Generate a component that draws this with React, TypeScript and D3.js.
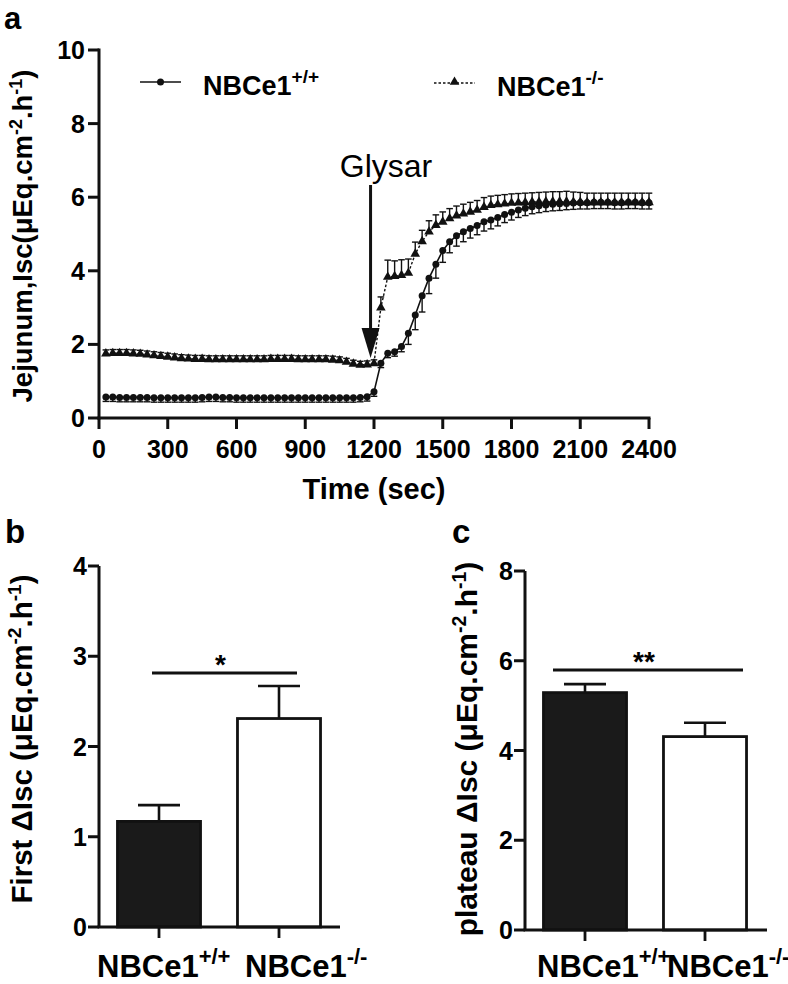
import React from "react";
import * as d3 from "d3";

const TIMES: number[] = d3.range(1, 81).map((i) => i * 30);

const WT_MEAN = [
  0.57, 0.57, 0.56, 0.56, 0.56, 0.56, 0.56, 0.55, 0.55, 0.55, 0.55, 0.55, 0.55, 0.55, 0.56, 0.57, 0.57, 0.56, 0.56, 0.55,
  0.55, 0.55, 0.55, 0.55, 0.55, 0.55, 0.55, 0.55, 0.55, 0.55, 0.55, 0.55, 0.55, 0.55, 0.55, 0.55, 0.55, 0.56, 0.58, 0.71,
  1.49, 1.76, 1.8, 1.94, 2.3, 2.8, 3.32, 3.8, 4.18, 4.55, 4.79, 4.95, 5.06, 5.15, 5.23, 5.33, 5.38, 5.45, 5.53, 5.59,
  5.65, 5.7, 5.74, 5.77, 5.79, 5.81, 5.82, 5.83, 5.84, 5.85, 5.85, 5.86, 5.86, 5.86, 5.85, 5.85, 5.86, 5.86, 5.85, 5.85,
];
const WT_SEM = [
  0.12, 0.12, 0.12, 0.12, 0.12, 0.12, 0.12, 0.12, 0.12, 0.12, 0.12, 0.12, 0.12, 0.12, 0.12, 0.12, 0.12, 0.12, 0.12, 0.12,
  0.12, 0.12, 0.12, 0.12, 0.12, 0.12, 0.12, 0.12, 0.12, 0.12, 0.12, 0.12, 0.12, 0.12, 0.12, 0.12, 0.12, 0.12, 0.12, 0.12,
  0.12, 0.12, 0.12, 0.14, 0.3, 0.4, 0.44, 0.42, 0.38, 0.32, 0.3, 0.28, 0.27, 0.26, 0.25, 0.25, 0.24, 0.23, 0.22, 0.21,
  0.2, 0.2, 0.19, 0.19, 0.18, 0.18, 0.18, 0.17, 0.17, 0.17, 0.17, 0.17, 0.17, 0.17, 0.17, 0.17, 0.17, 0.17, 0.17, 0.17,
];
const KO_MEAN = [
  1.75, 1.76, 1.76, 1.76, 1.75, 1.74, 1.72, 1.7, 1.68, 1.66, 1.64, 1.62, 1.61, 1.6, 1.6, 1.59, 1.59, 1.59, 1.59, 1.59,
  1.59, 1.59, 1.59, 1.59, 1.6, 1.6, 1.6, 1.6, 1.59, 1.59, 1.59, 1.59, 1.59, 1.58, 1.56, 1.52, 1.47, 1.44, 1.45, 1.48,
  3.0, 3.83, 3.85, 3.88, 3.94, 4.46, 4.8, 5.06, 5.24, 5.33, 5.42, 5.5, 5.55, 5.6, 5.65, 5.73, 5.78, 5.8, 5.82, 5.84,
  5.85, 5.86, 5.87, 5.87, 5.88, 5.88, 5.88, 5.88, 5.87, 5.87, 5.86, 5.86, 5.86, 5.86, 5.86, 5.86, 5.86, 5.86, 5.86, 5.86,
];
const KO_SEM = [
  0.1, 0.1, 0.1, 0.1, 0.1, 0.1, 0.1, 0.1, 0.1, 0.1, 0.1, 0.1, 0.1, 0.1, 0.1, 0.1, 0.1, 0.1, 0.1, 0.1,
  0.1, 0.1, 0.1, 0.1, 0.1, 0.1, 0.1, 0.1, 0.1, 0.1, 0.1, 0.1, 0.1, 0.1, 0.1, 0.1, 0.1, 0.1, 0.1, 0.1,
  0.29, 0.46, 0.42, 0.42, 0.38, 0.32, 0.3, 0.3, 0.28, 0.27, 0.27, 0.26, 0.26, 0.26, 0.26, 0.26, 0.25, 0.25, 0.25, 0.25,
  0.25, 0.25, 0.25, 0.26, 0.26, 0.27, 0.27, 0.28, 0.27, 0.26, 0.25, 0.25, 0.25, 0.25, 0.25, 0.25, 0.25, 0.25, 0.25, 0.25,
];

const X_TICKS = [0, 300, 600, 900, 1200, 1500, 1800, 2100, 2400];
const Y_TICKS_A = [0, 2, 4, 6, 8, 10];
const GLYSAR_TIME = 1185;

const GROUPS = ["NBCe1+/+", "NBCe1-/-"];
const GROUP_SUPS = ["+/+", "-/-"];
const FIRST_MEAN = [1.17, 2.31];
const FIRST_SEM = [0.18, 0.36];
const Y_TICKS_B = [0, 1, 2, 3, 4];
const PLATEAU_MEAN = [5.29, 4.31];
const PLATEAU_SEM = [0.19, 0.31];
const Y_TICKS_C = [0, 2, 4, 6, 8];

const FONT = "Liberation Sans, Arial, Helvetica, sans-serif";

function UnitLabel({ x, y, prefix, size }: { x: number; y: number; prefix: string; size: number }) {
  const up = -size * 0.38;
  return (
    <text
      transform={`translate(${x},${y}) rotate(-90)`}
      textAnchor="middle"
      fontFamily={FONT}
      fontWeight="bold"
      fontSize={size}
    >
      {prefix}
      <tspan>μEq.cm</tspan>
      <tspan fontSize={size * 0.65} dy={up}>
        -2
      </tspan>
      <tspan dy={-up}>.h</tspan>
      <tspan fontSize={size * 0.65} dy={up}>
        -1
      </tspan>
      <tspan dy={-up}>)</tspan>
    </text>
  );
}

function BarPanel({
  left,
  right,
  yTop,
  yBottom,
  maxY,
  ticks,
  means,
  sems,
  sigY,
  sigX0,
  sigX1,
  star,
  labelX,
}: {
  left: number;
  right: number;
  yTop: number;
  yBottom: number;
  maxY: number;
  ticks: number[];
  means: number[];
  sems: number[];
  sigY: number;
  sigX0: number;
  sigX1: number;
  star: string;
  labelX: number[];
}) {
  const y = d3.scaleLinear().domain([0, maxY]).range([yBottom, yTop]);
  const x = d3.scaleBand<string>().domain(GROUPS).range([left, left + 240]).paddingInner(0.308).paddingOuter(0.154);
  const bw = x.bandwidth();
  return (
    <g>
      {GROUPS.map((g, i) => {
        const cx = (x(g) as number) + bw / 2;
        const top = y(means[i]);
        const cap = y(means[i] + sems[i]);
        return (
          <g key={g}>
            <line x1={cx} x2={cx} y1={top} y2={cap} stroke="#111" strokeWidth={2.6} />
            <line x1={cx - 21} x2={cx + 21} y1={cap} y2={cap} stroke="#111" strokeWidth={2.6} />
            <rect
              x={x(g)}
              y={top}
              width={bw}
              height={yBottom - top}
              fill={i === 0 ? "#1a1a1a" : "#fff"}
              stroke="#111"
              strokeWidth={2.8}
            />
            <line x1={cx} x2={cx} y1={yBottom} y2={yBottom + 11} stroke="#111" strokeWidth={2.8} />
            <text x={labelX[i]} y={977} fontFamily={FONT} fontWeight="bold" fontSize={31}>
              NBCe1
              <tspan fontSize={22} dy={-13}>
                {GROUP_SUPS[i]}
              </tspan>
            </text>
          </g>
        );
      })}
      <line x1={left} x2={left} y1={yTop} y2={yBottom} stroke="#111" strokeWidth={3} />
      <line x1={left - 1.5} x2={right} y1={yBottom} y2={yBottom} stroke="#111" strokeWidth={3} />
      {ticks.map((t) => (
        <g key={t}>
          <line x1={left - 11} x2={left} y1={y(t)} y2={y(t)} stroke="#111" strokeWidth={3} />
          <text
            x={left - 12}
            y={y(t) + 9}
            textAnchor="end"
            fontFamily={FONT}
            fontWeight="bold"
            fontSize={25}
          >
            {t}
          </text>
        </g>
      ))}
      <line x1={sigX0} x2={sigX1} y1={sigY} y2={sigY} stroke="#111" strokeWidth={3} />
      <text
        x={(sigX0 + sigX1) / 2 - 4}
        y={sigY + 1}
        textAnchor="middle"
        fontFamily={FONT}
        fontWeight="bold"
        fontSize={28}
      >
        {star}
      </text>
    </g>
  );
}

export default function App() {
  const x = d3.scaleLinear().domain([0, 2400]).range([99, 649]);
  const y = d3.scaleLinear().domain([0, 10]).range([418, 50]);

  const wt = TIMES.map((t, i) => ({ t, v: WT_MEAN[i], e: WT_SEM[i] }));
  const ko = TIMES.map((t, i) => ({ t, v: KO_MEAN[i], e: KO_SEM[i] }));

  const line = d3
    .line<{ t: number; v: number }>()
    .x((d) => x(d.t))
    .y((d) => y(d.v));

  const tri = d3.symbol().type(d3.symbolTriangle).size(40)() as string;
  const cap = 3.3;
  const gx = x(GLYSAR_TIME);

  return (
    <svg width={788} height={984} style={{ position: "absolute", left: 0, top: 0, background: "#fff" }}>
      <rect width={788} height={984} fill="#fff" />
      {/* panel letters */}
      <text x={4} y={28.5} fontFamily={FONT} fontWeight="bold" fontSize={31}>
        a
      </text>
      <text x={5} y={543} fontFamily={FONT} fontWeight="bold" fontSize={33}>
        b
      </text>
      <text x={452} y={543} fontFamily={FONT} fontWeight="bold" fontSize={33}>
        c
      </text>

      {/* ===== Panel a ===== */}
      <g>
        {ko.map((d) => (
          <g key={"koe" + d.t} stroke="#111" strokeWidth={1.4}>
            <line x1={x(d.t)} x2={x(d.t)} y1={y(d.v)} y2={y(d.v + d.e)} />
            <line x1={x(d.t) - cap} x2={x(d.t) + cap} y1={y(d.v + d.e)} y2={y(d.v + d.e)} />
          </g>
        ))}
        {wt.map((d) => (
          <g key={"wte" + d.t} stroke="#111" strokeWidth={1.4}>
            <line x1={x(d.t)} x2={x(d.t)} y1={y(d.v)} y2={y(d.v - d.e)} />
            <line x1={x(d.t) - cap} x2={x(d.t) + cap} y1={y(d.v - d.e)} y2={y(d.v - d.e)} />
          </g>
        ))}
        <path d={line(ko) as string} fill="none" stroke="#111" strokeWidth={1.4} strokeDasharray="2.5,2" />
        <path d={line(wt) as string} fill="none" stroke="#111" strokeWidth={1.6} />
        {ko.map((d) => (
          <path key={"kop" + d.t} d={tri} transform={`translate(${x(d.t)},${y(d.v)})`} fill="#111" />
        ))}
        {wt.map((d) => (
          <circle key={"wtp" + d.t} cx={x(d.t)} cy={y(d.v)} r={3.5} fill="#111" />
        ))}

        {/* axes */}
        <line x1={99} x2={99} y1={48.5} y2={419.5} stroke="#111" strokeWidth={3} />
        <line x1={97.5} x2={650.5} y1={418} y2={418} stroke="#111" strokeWidth={3} />
        {Y_TICKS_A.map((t) => (
          <g key={"ya" + t}>
            <line x1={88} x2={99} y1={y(t)} y2={y(t)} stroke="#111" strokeWidth={3} />
            <text x={85} y={y(t) + 9} textAnchor="end" fontFamily={FONT} fontWeight="bold" fontSize={25}>
              {t}
            </text>
          </g>
        ))}
        {X_TICKS.map((t) => (
          <g key={"xa" + t}>
            <line x1={x(t)} x2={x(t)} y1={418} y2={429} stroke="#111" strokeWidth={3} />
            <text x={x(t)} y={458} textAnchor="middle" fontFamily={FONT} fontWeight="bold" fontSize={25}>
              {t}
            </text>
          </g>
        ))}
        <text x={374} y={499} textAnchor="middle" fontFamily={FONT} fontWeight="bold" fontSize={29}>
          Time (sec)
        </text>
        <UnitLabel x={32} y={236} prefix="Jejunum,Isc(" size={27.5} />

        {/* legend */}
        <line x1={140} x2={181} y1={82} y2={82} stroke="#111" strokeWidth={1.6} />
        <circle cx={160.5} cy={82} r={3.5} fill="#111" />
        <text x={203} y={95} fontFamily={FONT} fontWeight="bold" fontSize={27}>
          NBCe1
          <tspan fontSize={19} dy={-12}>
            +/+
          </tspan>
        </text>
        <line x1={434} x2={475} y1={83} y2={83} stroke="#111" strokeWidth={1.4} strokeDasharray="2.5,2" />
        <path d={tri} transform={`translate(454.5,82)`} fill="#111" />
        <text x={497} y={96} fontFamily={FONT} fontWeight="bold" fontSize={27}>
          NBCe1
          <tspan fontSize={19} dy={-12}>
            -/-
          </tspan>
        </text>

        {/* Glysar arrow */}
        <text x={386} y={177} textAnchor="middle" fontFamily={FONT} fontSize={32}>
          Glysar
        </text>
        <line x1={gx} x2={gx} y1={185} y2={332} stroke="#111" strokeWidth={3} />
        <path d={`M${gx - 9},328 L${gx + 9},328 L${gx},358 Z`} fill="#111" />
      </g>

      {/* ===== Panel b ===== */}
      <BarPanel
        left={99}
        right={340}
        yTop={566}
        yBottom={927}
        maxY={4}
        ticks={Y_TICKS_B}
        means={FIRST_MEAN}
        sems={FIRST_SEM}
        sigY={673}
        sigX0={152}
        sigX1={297}
        star="*"
        labelX={[97, 245]}
      />
      <UnitLabel x={32} y={739} prefix="First ΔIsc (" size={29.5} />

      {/* ===== Panel c ===== */}
      <BarPanel
        left={525}
        right={767}
        yTop={571}
        yBottom={930}
        maxY={8}
        ticks={Y_TICKS_C}
        means={PLATEAU_MEAN}
        sems={PLATEAU_SEM}
        sigY={670}
        sigX0={553}
        sigX1={743}
        star="**"
        labelX={[537, 667]}
      />
      <UnitLabel x={477} y={749} prefix="plateau ΔIsc (" size={30} />
    </svg>
  );
}
